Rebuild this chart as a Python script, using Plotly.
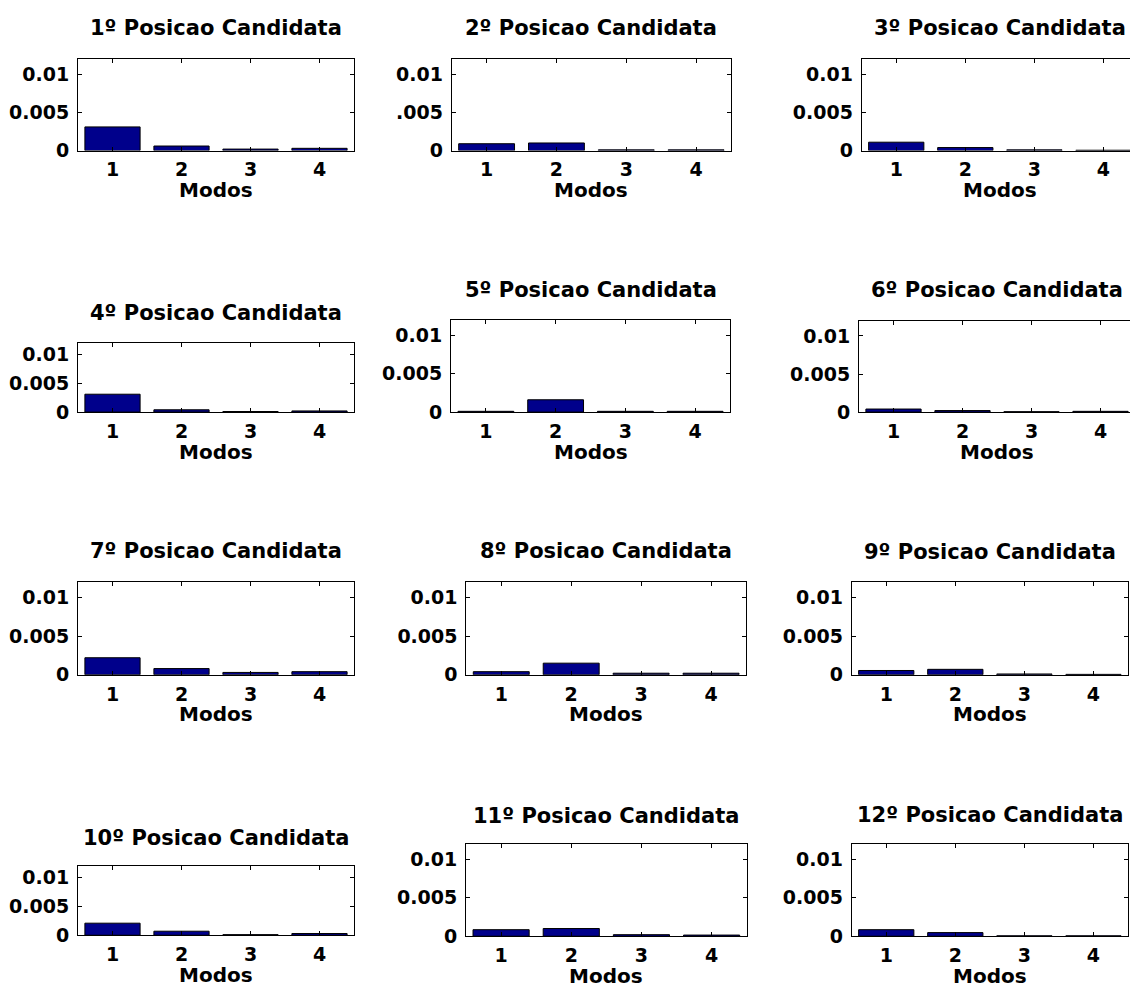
import plotly.graph_objects as go

# ---------------- data ----------------
modos = [1, 2, 3, 4]
modo_labels = ["1", "2", "3", "4"]
titles = [f"{i}º Posicao Candidata" for i in range(1, 13)]
x_title = "Modos"

pos1 = [0.0031, 0.0006, 0.0002, 0.0003]
pos2 = [0.0009, 0.0010, 0.0001, 0.0001]
pos3 = [0.0011, 0.0004, 0.0001, 0.00005]
pos4 = [0.0031, 0.0004, 0.0001, 0.0002]
pos5 = [0.0001, 0.0016, 0.0001, 0.0001]
pos6 = [0.0004, 0.0002, 0.00005, 0.0001]
pos7 = [0.0022, 0.0008, 0.0003, 0.0004]
pos8 = [0.0004, 0.0015, 0.0002, 0.0002]
pos9 = [0.00055, 0.0007, 0.0001, 0.00005]
pos10 = [0.0021, 0.0007, 0.0001, 0.0003]
pos11 = [0.00085, 0.0010, 0.0002, 0.00015]
pos12 = [0.00085, 0.00047, 0.00005, 0.00005]
series = [pos1, pos2, pos3, pos4, pos5, pos6, pos7, pos8, pos9, pos10, pos11, pos12]

y_tickvals = [0, 0.005, 0.01]
y_ticktext = ["0", "0.005", "0.01"]
y_ticktext_p2 = ["0", ".005", "0.01"]
y_max = 0.012

# ---------------- layout (pixel boxes: left, right, top, bottom) ----------------
W, H = 1130, 994
boxes = [
    (78, 354, 59.5, 152.3),
    (451.7, 731, 59.5, 152.3),
    (861.7, 1138, 59.5, 152.3),
    (78, 354, 346.7, 416.7),
    (451, 730, 323.3, 416.7),
    (859, 1135, 324.3, 416.7),
    (78, 354, 588.5, 682.3),
    (466.3, 746, 588.5, 682.3),
    (851.7, 1128, 588.5, 682.3),
    (78, 354, 876, 945.7),
    (466, 746.7, 853.3, 946.7),
    (851.7, 1128, 853.3, 946.7),
]
title_y = [28, 28, 28, 316.2, 293.3, 292.8, 557, 557.5, 557.8, 847, 825, 824.2]
xlabel_gap = 40  # px from axis bottom to the centre of "Modos"

FONT = "DejaVu Sans"
BAR_COLOR = "#00008B"

fig = go.Figure()
layout = dict(
    width=W, height=H,
    margin=dict(l=0, r=0, t=0, b=0),
    paper_bgcolor="white", plot_bgcolor="white",
    showlegend=False,
    font=dict(family=FONT, size=19, color="black", weight="bold"),
)
annotations = []

for i, (vals, (l, r, t, b)) in enumerate(zip(series, boxes)):
    n = "" if i == 0 else str(i + 1)
    fig.add_trace(go.Bar(
        x=modos, y=vals, width=0.8,
        marker=dict(color=BAR_COLOR, line=dict(color="black", width=1)),
        xaxis="x" + n, yaxis="y" + n, hoverinfo="x+y",
    ))
    rr = min(r, W)
    xmax = 0.5 + 4.0 * (rr - l) / (r - l)
    clipped = r > W + 1
    layout["xaxis" + n] = dict(
        domain=[l / W, rr / W], anchor="y" + n,
        range=[0.5, xmax], tickvals=modos, ticktext=modo_labels,
        ticks="inside", ticklen=4, tickcolor="black", tickwidth=1,
        showline=True, linecolor="black", linewidth=1, mirror="ticks",
        showgrid=False, zeroline=False, ticklabelstandoff=2,
        tickfont=dict(family=FONT, size=19, weight="bold"),
        fixedrange=True,
    )
    layout["yaxis" + n] = dict(
        domain=[(H - b) / H, (H - t) / H], anchor="x" + n,
        range=[0, y_max], tickvals=y_tickvals,
        ticktext=y_ticktext_p2 if i == 1 else y_ticktext,
        ticks="inside", ticklen=4, tickcolor="black", tickwidth=1,
        showline=True, linecolor="black", linewidth=1,
        mirror=False if clipped else "ticks",
        showgrid=False, zeroline=False, ticklabelstandoff=4,
        tickfont=dict(family=FONT, size=19, weight="bold"),
        fixedrange=True,
    )
    annotations.append(dict(
        text=titles[i], xref="paper", yref="paper",
        x=((l + r) / 2) / W, y=(H - title_y[i]) / H,
        xanchor="center", yanchor="middle", showarrow=False,
        font=dict(family=FONT, size=21, weight="bold", color="black"),
    ))
    annotations.append(dict(
        text=x_title, xref="paper", yref="paper",
        x=((l + r) / 2) / W, y=(H - (b + xlabel_gap)) / H,
        xanchor="center", yanchor="middle", showarrow=False,
        font=dict(family=FONT, size=20, weight="bold", color="black"),
    ))

layout["annotations"] = annotations
fig.update_layout(**layout)

fig.write_html("out.html")
